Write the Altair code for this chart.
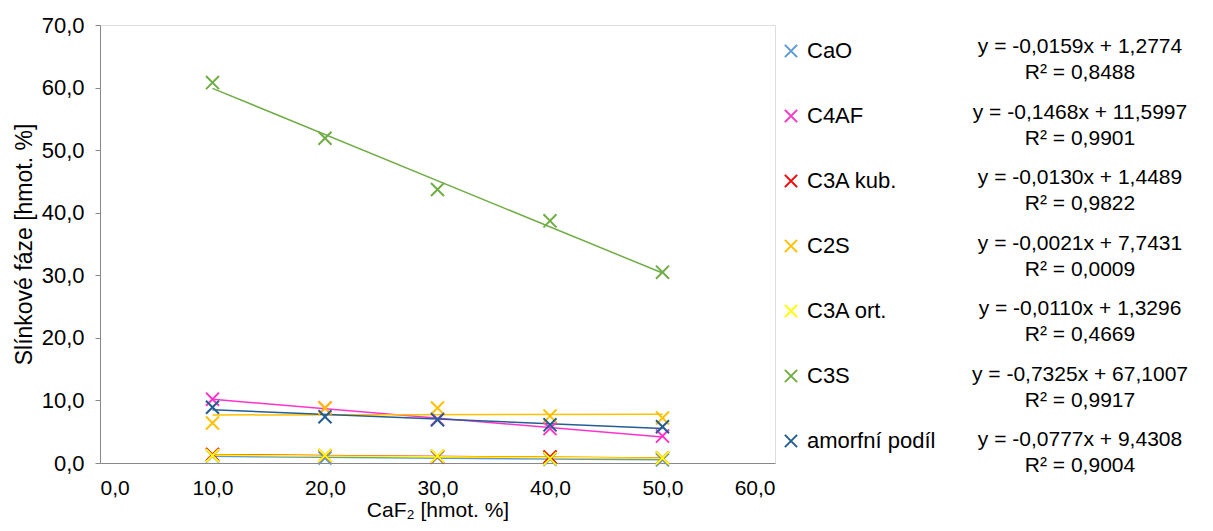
import altair as alt
import pandas as pd

# ---- data ----
caf2 = [10, 20, 30, 40, 50]
series_names = ["CaO", "C4AF", "C3A kub.", "C2S", "C3A ort.", "C3S", "amorfní podíl"]
series_colors = ["#5B9BD5", "#FF33CC", "#FF0000", "#FFC000", "#FFFF00", "#70AD47", "#255E91"]

cao = [1.1, 0.8, 0.9, 0.6, 0.5]
c4af = [10.2, 8.8, 7.0, 5.5, 4.3]
c3a_kub = [1.35, 1.15, 1.05, 0.95, 0.8]
c2s = [6.4, 8.8, 8.8, 7.5, 7.2]
c3a_ort = [1.2, 1.2, 1.1, 0.7, 0.8]
c3s = [60.8, 51.9, 43.7, 38.7, 30.5]
amorf = [8.9, 7.4, 6.9, 6.1, 5.8]

equations = [
    "y = -0,0159x + 1,2774",
    "y = -0,1468x + 11,5997",
    "y = -0,0130x + 1,4489",
    "y = -0,0021x + 7,7431",
    "y = -0,0110x + 1,3296",
    "y = -0,7325x + 67,1007",
    "y = -0,0777x + 9,4308",
]
r_squared = [
    "R² = 0,8488",
    "R² = 0,9901",
    "R² = 0,9822",
    "R² = 0,0009",
    "R² = 0,4669",
    "R² = 0,9917",
    "R² = 0,9004",
]

x_ticks = [0, 10, 20, 30, 40, 50, 60]
y_ticks = [0, 10, 20, 30, 40, 50, 60, 70]

# ---- build tables ----
all_vals = [cao, c4af, c3a_kub, c2s, c3a_ort, c3s, amorf]
rows = []
for name, vals in zip(series_names, all_vals):
    for xv, yv in zip(caf2, vals):
        rows.append({"series": name, "caf2": xv, "value": yv})
df = pd.DataFrame(rows)

eq_df = pd.DataFrame({"series": series_names, "eq": equations, "r2": r_squared,
                      "i": list(range(len(series_names)))})

FONT = "Liberation Sans"
XPATH = "M-1,-1L1,1M-1,1L1,-1"
comma_fmt = "replace(format(datum.value, '.1f'), '.', ',')"

x_enc = alt.X("caf2:Q",
              scale=alt.Scale(domain=[0, 60], nice=False, zero=True),
              axis=alt.Axis(values=x_ticks, labelExpr=comma_fmt, ticks=False,
                            grid=False, labelPadding=14, labelFontSize=21,
                            title="CaF₂ [hmot. %]", titleFontSize=21,
                            titleFontWeight="normal", titlePadding=1))
y_enc = alt.Y("value:Q",
              scale=alt.Scale(domain=[0, 70], nice=False),
              axis=alt.Axis(values=y_ticks, labelExpr=comma_fmt, ticks=True,
                            tickSize=5, grid=False, labelPadding=11,
                            labelFontSize=22,
                            title="Slínkové fáze [hmot. %]", titleFontSize=23,
                            titleFontWeight="normal", titlePadding=5))

color_scale = alt.Scale(domain=series_names, range=series_colors)
legend = alt.Legend(title=None, orient="none", legendX=680, legendY=15,
                    symbolType=XPATH, symbolSize=150, symbolStrokeWidth=2,
                    labelFontSize=22, labelFont=FONT, labelColor="black",
                    labelOffset=5, rowPadding=43, labelLimit=300)
color_enc = alt.Color("series:N", scale=color_scale, sort=series_names,
                      legend=legend)

base = alt.Chart(df)

lines = base.transform_regression(
    "caf2", "value", groupby=["series"], method="linear"
).mark_line(strokeWidth=1.5).encode(x=x_enc, y=y_enc, color=color_enc)

points = base.mark_point(shape=XPATH, size=170, strokeWidth=2, filled=False,
                         opacity=1).encode(x=x_enc, y=y_enc, color=color_enc)

eq_base = alt.Chart(eq_df).transform_calculate(ypix="22 + datum.i * 65.5")

eq_text = eq_base.mark_text(fontSize=21, font=FONT, align="center",
                            baseline="middle", color="black").encode(
    x=alt.value(980),
    y=alt.Y("ypix:Q", scale=None, axis=None),
    text="eq:N",
)
r2_text = eq_base.mark_text(fontSize=21, font=FONT, align="center",
                            baseline="middle", color="black", dy=26).encode(
    x=alt.value(980),
    y=alt.Y("ypix:Q", scale=None, axis=None),
    text="r2:N",
)

chart = alt.layer(lines, points, eq_text, r2_text).properties(
    width=675, height=438,
    autosize=alt.AutoSizeParams(type="none"),
    padding={"left": 92, "top": 17, "right": 430, "bottom": 60},
).configure_view(
    stroke="black", strokeWidth=2
).configure_axis(
    labelFont=FONT, titleFont=FONT, labelColor="black", titleColor="black",
    titleFontWeight="normal", domainColor="black", domainWidth=2,
    tickColor="black", tickWidth=1.5
).configure(background="white")

chart.save("out.html", embed_options={"renderer": "svg", "actions": False})
